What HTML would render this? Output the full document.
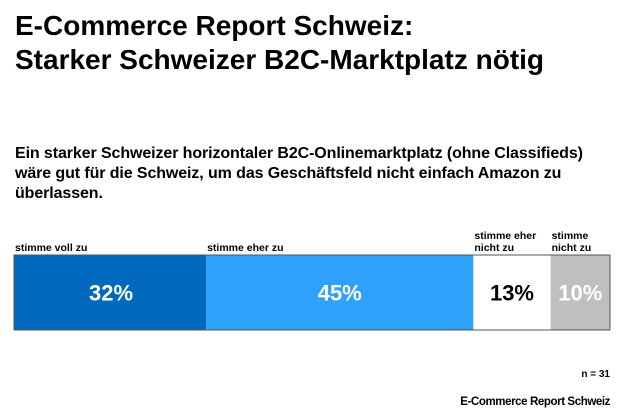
<!DOCTYPE html>
<html><head><meta charset="utf-8"><style>
body{margin:0;width:630px;height:412px;background:#fff;font-family:"Liberation Sans",Arial,sans-serif;overflow:hidden;position:relative}
.t{position:absolute;font-weight:bold;color:#000;white-space:nowrap}
</style></head><body>
<div class="t" style="left:15px;top:9px;font-size:28px;line-height:34px;letter-spacing:0px">E-Commerce Report Schweiz:<br>Starker Schweizer B2C-Marktplatz nötig</div>
<div class="t" style="left:15px;top:144px;font-size:16px;line-height:20px;letter-spacing:-0.1px">Ein starker Schweizer horizontaler B2C-Onlinemarktplatz (ohne Classifieds)<br>wäre gut für die Schweiz, um das Geschäftsfeld nicht einfach Amazon zu<br>überlassen.</div>
<svg id="chart" width="630" height="412" style="position:absolute;left:0;top:0"></svg>
<div class="t" style="right:20px;top:369px;font-size:10px">n = 31</div>
<div class="t" style="right:20px;top:396px;font-size:11.5px;letter-spacing:-0.4px">E-Commerce Report Schweiz</div>
<script>
const categories=["stimme voll zu","stimme eher zu","stimme eher|nicht zu","stimme|nicht zu"];
const values=[32,45,13,10];
const colors=["#0069bd","#2ea1fb","#ffffff","#bfbfbf"];
const textColors=["#fff","#fff","#000","#fff"];
const svg=document.getElementById('chart');
const NS="http://www.w3.org/2000/svg";
const x0=16,x1=610,y0=255,h=75;
const total=values.reduce((a,b)=>a+b,0);
const xs=v=>x0+(v/total)*(x1-x0);
let cum=0;
values.forEach((v,i)=>{
  const a=xs(cum),b=xs(cum+v);cum+=v;
  const r=document.createElementNS(NS,'rect');
  r.setAttribute('x',i==0?14:a);r.setAttribute('y',y0);r.setAttribute('width',b-(i==0?14:a));r.setAttribute('height',h);r.setAttribute('fill',colors[i]);
  
  
  svg.appendChild(r);
  const t=document.createElementNS(NS,'text');
  t.setAttribute('x',(a+b)/2);t.setAttribute('y',y0+h/2+8);t.setAttribute('text-anchor','middle');
  t.setAttribute('font-size','22');t.setAttribute('font-weight','bold');t.setAttribute('fill',textColors[i]);
  t.setAttribute('font-family','Liberation Sans, sans-serif');
  t.textContent=v+'%';
  
  
  svg.appendChild(t);
  const lines=categories[i].split('|');
  lines.forEach((ln,j)=>{
    const c=document.createElementNS(NS,'text');
    c.setAttribute('x',(i==0?14:a)+1);c.setAttribute('y',251-(lines.length-1-j)*12);
    c.setAttribute('font-size','10.5');c.setAttribute('font-weight','bold');c.setAttribute('fill','#000');
    c.setAttribute('font-family','Liberation Sans, sans-serif');
    c.textContent=ln;
    
    
    svg.appendChild(c);
  });
});
const f=document.createElementNS(NS,'rect');
f.setAttribute('x',14);f.setAttribute('y',y0);f.setAttribute('width',x1-14);f.setAttribute('height',h);
f.setAttribute('fill','none');f.setAttribute('stroke','#555');f.setAttribute('stroke-width','1');


svg.appendChild(f);
</script>
</body></html>
